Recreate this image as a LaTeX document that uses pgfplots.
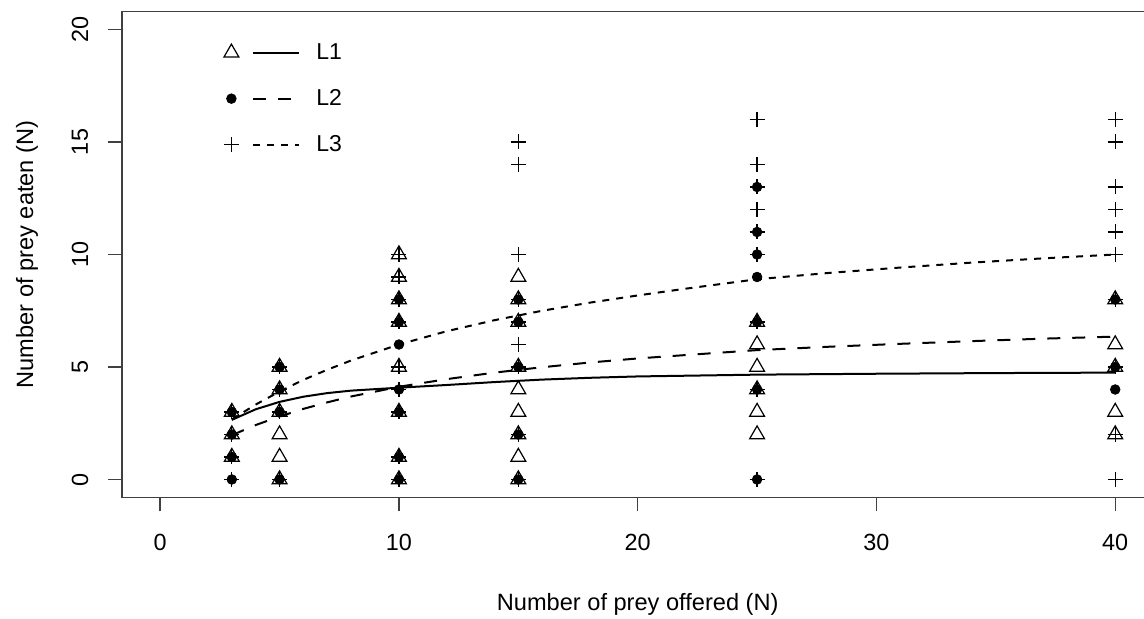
\documentclass[border=0pt]{standalone}
\usepackage{fontspec}
\setmainfont{Liberation Sans}
\usepackage{pgfplots}
\pgfplotsset{compat=1.18}

\begin{document}
\begin{tikzpicture}
\begin{axis}[
    name=ax,
    scale only axis,
    width=515.7pt, height=243pt,
    xmin=-1.6, xmax=41.6,
    ymin=-0.8, ymax=20.8,
    axis line style={black!75, line width=0.8pt},
    xtick={0,10,20,30,40},
    ytick={0,5,10,15,20},
    tick align=outside,
    xtick pos=bottom, ytick pos=left,
    major tick length=7pt,
    tick style={black!75, line width=0.7pt},
    /pgf/number format/assume math mode=true,
    tick label style={font=\fontsize{11.7}{14}\selectfont},
    xticklabel style={anchor=center, yshift=-15.25pt},
    yticklabel style={xshift=-14pt, rotate=90, anchor=center},
    xlabel={Number of prey offered (N)},
    ylabel={Number of prey eaten (N)},
    every axis x label/.style={at={(axis description cs:0.5,-0.219)}, anchor=center,
        font=\fontsize{11.8}{14}\selectfont},
    every axis y label/.style={at={(axis description cs:-0.0921,0.5)}, rotate=90, anchor=center,
        font=\fontsize{11.8}{14}\selectfont},
    legend style={draw=none, fill=none, at={(axis cs:2.4,19.76)}, anchor=north west,
        font=\fontsize{11.5}{14}\selectfont, row sep=9.5pt, column sep=6pt},
    legend cell align=left,
]
% legend entries: mark, then line
\addlegendimage{legend image code/.code={
    \draw[black, line width=0.6pt, mark=triangle, mark size=4.3pt] plot coordinates {(0pt,0pt)};
    \draw[black, line width=1pt] (11pt,0pt) -- (34pt,0pt);}}
\addlegendentry{L1}
\addlegendimage{legend image code/.code={
    \draw[black, fill=black, mark=*, mark size=2.4pt] plot coordinates {(0pt,0pt)};
    \draw[black, line width=1pt, dash pattern=on 6.5pt off 6pt] (11pt,0pt) -- (34pt,0pt);}}
\addlegendentry{L2}
\addlegendimage{legend image code/.code={
    \draw[black, line width=0.6pt, mark=+, mark size=3.75pt] plot coordinates {(0pt,0pt)};
    \draw[black, line width=1pt, dash pattern=on 3.5pt off 3.5pt] (11pt,0pt) -- (34pt,0pt);}}
\addlegendentry{L3}

% L1 observations (open triangles)
\addplot[forget plot, only marks, mark=triangle, mark size=4.3pt, mark options={line width=0.6pt, black}] coordinates {
    (3,1) (3,2) (3,3)
    (5,0) (5,1) (5,2) (5,3) (5,4) (5,5)
    (10,0) (10,1) (10,3) (10,5) (10,7) (10,8) (10,9) (10,10)
    (15,0) (15,1) (15,2) (15,3) (15,4) (15,5) (15,7) (15,8) (15,9)
    (25,2) (25,3) (25,4) (25,5) (25,6) (25,7)
    (40,2) (40,3) (40,5) (40,6) (40,8)
};
% L2 observations (filled dots)
\addplot[forget plot, only marks, mark=*, mark size=2.4pt, mark options={black, fill=black}] coordinates {
    (3,0) (3,1) (3,2) (3,3)
    (5,0) (5,3) (5,4) (5,5)
    (10,0) (10,1) (10,3) (10,4) (10,6) (10,7) (10,8)
    (15,0) (15,2) (15,5) (15,7) (15,8)
    (25,0) (25,4) (25,7) (25,9) (25,10) (25,11) (25,13)
    (40,4) (40,5) (40,8)
};
% L3 observations (plus)
\addplot[forget plot, only marks, mark=+, mark size=3.75pt, mark options={line width=0.6pt, black}] coordinates {
    (3,0) (3,1) (3,2) (3,3)
    (5,0) (5,3) (5,4) (5,5)
    (10,0) (10,1) (10,3) (10,4) (10,5) (10,7) (10,8) (10,9) (10,10)
    (15,0) (15,2) (15,5) (15,6) (15,7) (15,8) (15,10) (15,14) (15,15)
    (25,0) (25,4) (25,7) (25,10) (25,11) (25,12) (25,13) (25,14) (25,16)
    (40,0) (40,2) (40,5) (40,8) (40,10) (40,11) (40,12) (40,13) (40,15) (40,16)
};

% fitted curves
\addplot[forget plot, black, line width=1pt] coordinates {
    (3,2.65) (4,3.12) (5,3.45) (6,3.68) (7,3.84) (8,3.95) (10,4.08) (12,4.2)
    (14,4.33) (16,4.44) (18,4.52) (20,4.58) (25,4.66) (30,4.7) (35,4.73) (40,4.75)
};
\addplot[forget plot, black, line width=1pt, dash pattern=on 6.5pt off 6pt] coordinates {
    (3,1.97) (4,2.42) (5,2.8) (6,3.14) (7,3.43) (8,3.69) (10,4.12) (12,4.46)
    (14,4.75) (16,4.99) (18,5.2) (20,5.38) (22,5.53) (25,5.75) (28,5.9)
    (31,6.03) (34,6.15) (37,6.26) (40,6.35)
};
\addplot[forget plot, black, line width=1pt, dash pattern=on 3.5pt off 3.5pt] coordinates {
    (3,2.67) (4,3.33) (5,3.91) (6,4.43) (7,4.88) (8,5.29) (10,6.0) (12,6.59)
    (14,7.08) (16,7.5) (18,7.86) (20,8.18) (22,8.48) (25,8.9) (28,9.18)
    (31,9.42) (34,9.64) (37,9.83) (40,10.0)
};
\end{axis}
\pgfresetboundingbox
\path[use as bounding box] ([shift={(-61pt,-60.75pt)}]ax.south west) rectangle ([shift={(511pt,248.75pt)}]ax.south west);
\end{tikzpicture}
\end{document}
